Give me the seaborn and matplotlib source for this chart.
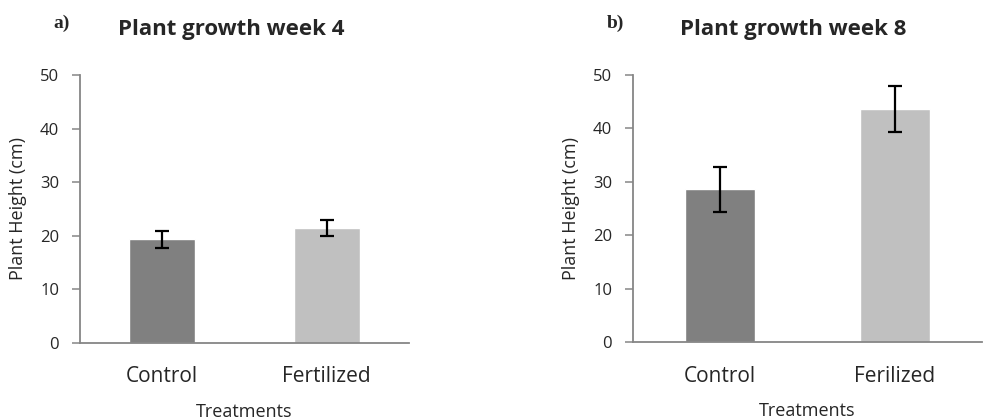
# plant growth bars, week 4 vs week 8

import matplotlib
matplotlib.use("Agg")
import matplotlib.pyplot as plt
import pandas as pd
import seaborn as sns

week4_labels = ["Control", "Fertilized"]
week4_height = [19.3, 21.4]
week4_err = [1.6, 1.5]

week8_labels = ["Control", "Ferilized"]
week8_height = [28.6, 43.6]
week8_err = [4.2, 4.3]

bar_colors = ["#808080", "#c0c0c0"]

sns.set_theme(style="white")
plt.rcParams["font.family"] = ["Open Sans", "DejaVu Sans"]

fig = plt.figure(figsize=(9.86, 4.19), dpi=100)
ax_a = fig.add_axes([0.0811, 0.182, 0.3337, 0.639])
ax_b = fig.add_axes([0.642, 0.183, 0.354, 0.638])

panels = [
    (ax_a, week4_labels, week4_height, week4_err, "Plant growth week 4", "a)"),
    (ax_b, week8_labels, week8_height, week8_err, "Plant growth week 8", "b)"),
]

for ax, labels, heights, errs, title, tag in panels:
    df = pd.DataFrame({"group": labels, "height": heights})
    sns.barplot(data=df, x="group", y="height", hue="group", palette=bar_colors,
                width=0.4, legend=False, ax=ax, saturation=1)
    ax.errorbar(range(len(labels)), heights, yerr=errs, fmt="none",
                ecolor="black", elinewidth=1.6, capsize=5, capthick=1.6)
    ax.set_ylim(0, 50)
    ax.set_xlim(-0.5, 1.5)
    ax.set_yticks([0, 10, 20, 30, 40, 50])
    for s in ["top", "right"]:
        ax.spines[s].set_visible(False)
    for s in ["left", "bottom"]:
        ax.spines[s].set_color("#868686")
        ax.spines[s].set_linewidth(1.3)
    ax.tick_params(axis="y", left=True, length=6, width=1.1, color="#868686",
                   labelsize=12, pad=9)
    ax.tick_params(axis="x", bottom=False, labelsize=15, pad=11)
    ax.set_xlabel("Treatments", fontsize=13, labelpad=11)
    ax.set_ylabel("Plant Height (cm)", fontsize=13, labelpad=9)

    pos = ax.get_position()
    fig.text(pos.x0 + pos.width * 0.46, 0.93, title, ha="center", va="center",
             fontsize=16, fontweight="bold")
    fig.text(pos.x0 - 0.027, 0.945, tag, ha="left", va="center",
             fontsize=14, fontweight="bold", family=["Liberation Serif"])

fig.savefig("out.png", dpi=100)
